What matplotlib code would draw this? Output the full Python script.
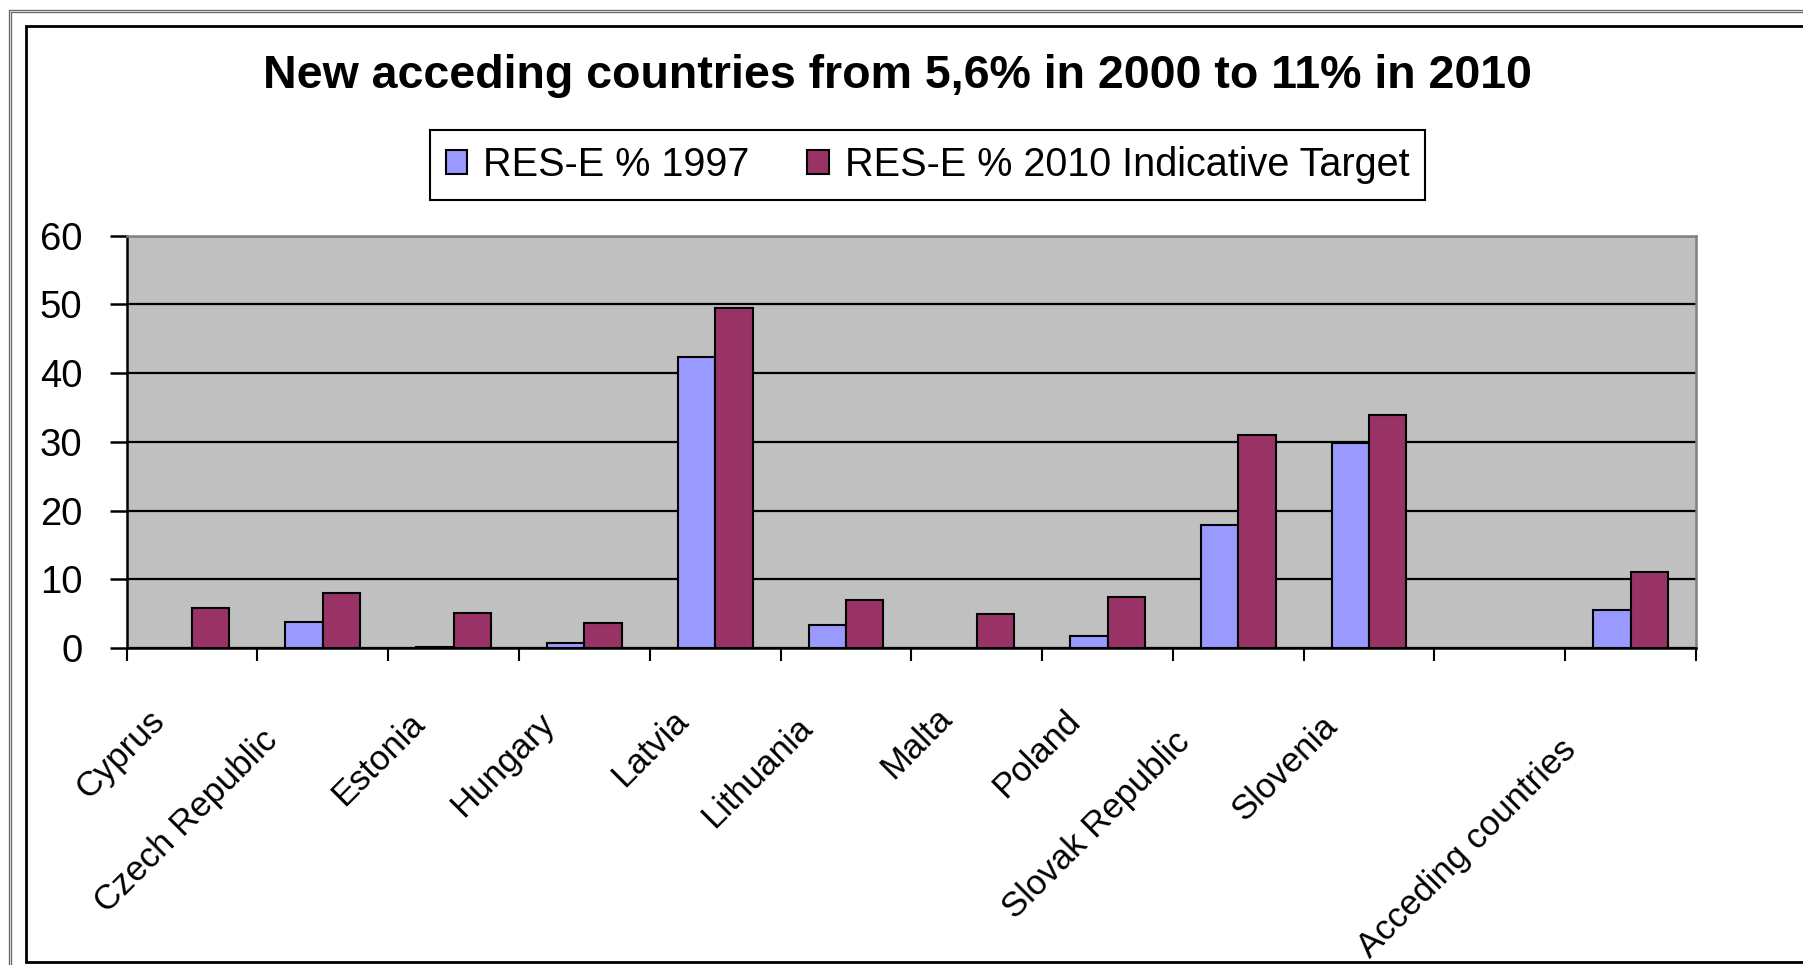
import numpy as np
import matplotlib
matplotlib.use("Agg")
import matplotlib.pyplot as plt
from matplotlib import font_manager
from matplotlib.lines import Line2D
from matplotlib.transforms import ScaledTranslation

# ---------------- data ----------------
categories = ["Cyprus", "Czech Republic", "Estonia", "Hungary", "Latvia",
              "Lithuania", "Malta", "Poland", "Slovak Republic", "Slovenia",
              "", "Acceding countries"]
res_1997 = [np.nan, 3.8, 0.2, 0.7, 42.4, 3.3, np.nan, 1.7, 17.9, 29.9, np.nan, 5.6]
res_2010 = [5.8, 8.0, 5.1, 3.6, 49.5, 7.0, 5.0, 7.4, 31.0, 33.9, np.nan, 11.1]
series_names = ["RES-E % 1997", "RES-E % 2010 Indicative Target"]
yticks = [0, 10, 20, 30, 40, 50, 60]
title = "New acceding countries from 5,6% in 2000 to 11% in 2010"

# ---------------- fonts ----------------
names = {f.name for f in font_manager.fontManager.ttflist}
base_font = "Liberation Sans" if "Liberation Sans" in names else "DejaVu Sans"
narrow = "Liberation Sans Narrow" in names
label_font = "Liberation Sans Narrow" if narrow else base_font
label_size = 29 if narrow else 25
plt.rcParams["font.family"] = [base_font, "DejaVu Sans"]

W, H = 1803, 965
fig = plt.figure(figsize=(W / 100, H / 100), dpi=100)
fig.patch.set_facecolor("white")

# plot area in pixels
x0, x1, ytop, ybot = 126.7, 1696, 235.7, 648
ax = fig.add_axes([x0 / W, 1 - ybot / H, (x1 - x0) / W, (ybot - ytop) / H])
ax.set_facecolor("#C0C0C0")

x = np.arange(len(categories))
w = 1 / 3.5
b1 = ax.bar(x - w / 2, res_1997, w, color="#9999FF", edgecolor="black",
            linewidth=1.5, label=series_names[0], zorder=3)
b2 = ax.bar(x + w / 2, res_2010, w, color="#993366", edgecolor="black",
            linewidth=1.5, label=series_names[1], zorder=3)

ax.set_xlim(-0.5, len(categories) - 0.5)
ax.set_ylim(0, 60)
ax.set_yticks(yticks)
ax.set_yticklabels([str(v) for v in yticks])
ax.yaxis.grid(True, color="black", linewidth=1.6)
ax.set_axisbelow(True)

for s in ["left", "bottom"]:
    ax.spines[s].set_color("black")
    ax.spines[s].set_linewidth(1.8)
for s in ["top", "right"]:
    ax.spines[s].set_color("#808080")
    ax.spines[s].set_linewidth(1.8)
ax.spines["bottom"].set_zorder(4)

ax.tick_params(axis="y", length=12, width=1.8, direction="out",
               labelsize=27.5, pad=20, colors="black")
ax.set_xticks(x)
ax.tick_params(axis="x", which="major", length=0, labelbottom=False)
ax.set_xticks(np.arange(-0.5, len(categories), 1), minor=True)
ax.tick_params(axis="x", which="minor", length=9, width=1.5, direction="out")

# rotated category labels
for i, lab in enumerate(categories):
    if not lab:
        continue
    n = len(lab)
    dx = -44 - 2.3 * (n - 6)
    dy = 56 + 2.4 * (n - 6)
    off = ScaledTranslation(dx / 100, -dy / 100, fig.dpi_scale_trans)
    ax.text(i, 0, lab, transform=ax.get_xaxis_transform() + off,
            rotation=45, rotation_mode="anchor", ha="right", va="top",
            fontsize=label_size, family=label_font, color="black")

# title
fig.text(897 / W, 1 - 76 / H, title, ha="center", va="center",
         fontsize=33.5, fontweight="bold", color="black")

# legend
leg = fig.legend(handles=[b1, b2], labels=series_names, loc="center",
                 bbox_to_anchor=((413 + 1442) / 2 / W, 1 - 165 / H),
                 ncol=2, fontsize=28.5, frameon=True, fancybox=False,
                 edgecolor="black", framealpha=1, handlelength=0.55,
                 handleheight=0.55, handletextpad=0.4, columnspacing=1.45,
                 borderpad=0.4)
leg.get_frame().set_linewidth(1.5)

# outer frames
def fl(xs, ys, **kw):
    fig.add_artist(Line2D([v / W for v in xs], [1 - v / H for v in ys],
                          transform=fig.transFigure, **kw))

fl([9.5, 9.5, W], [H, 11, 11], color="#6a6a6a", linewidth=2.4,
   solid_joinstyle="miter")
fl([9.5, 9.5, W], [H, 11, 11], color="#d8d8d8", linewidth=0.7,
   solid_joinstyle="miter")
fl([W, 25.5, 25.5, W], [962, 962, 26, 26], color="black", linewidth=2.0,
   solid_joinstyle="miter")

fig.savefig("out.png", dpi=100, facecolor="white")
